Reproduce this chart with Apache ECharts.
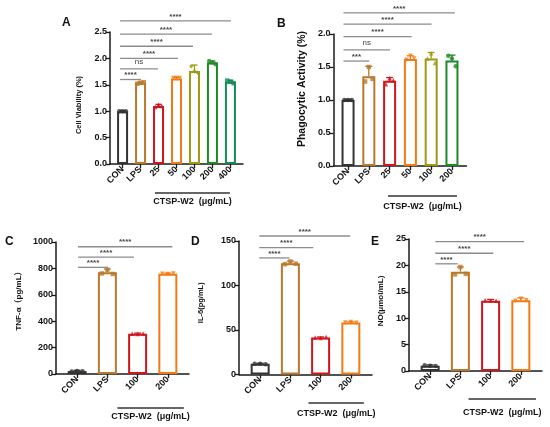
<!DOCTYPE html>
<html>
<head>
<meta charset="utf-8">
<script src="https://cdn.jsdelivr.net/npm/echarts@6/dist/echarts.min.js"></script>
<style>
  html, body { margin: 0; padding: 0; background: #fff; }
  #chart { width: 550px; height: 427px; }
</style>
</head>
<body>
<div id="chart"></div>
<script>
// A - cell viability
var catsA = ['CON', 'LPS', '25', '50', '100', '200', '400'];
var meanA = [1.0, 1.54, 1.10, 1.62, 1.76, 1.92, 1.56];
var errA = [1.01, 1.555, 1.13, 1.64, 1.875, 1.95, 1.585];
var repsA = [[1.0, 1.0, 1.0], [1.52, 1.54, 1.55], [1.08, 1.12, 1.10], [1.63, 1.63, 1.63],
  [1.85, 1.75, 1.73], [1.95, 1.92, 1.89], [1.58, 1.56, 1.53]];
var sigYA = [1.6, 1.8, 2.0, 2.23, 2.46, 2.71];
var sigEndA = [1.03, 1.97, 3.08, 3.92, 4.97, 6.03];
var sigLabA = ['****', 'ns', '****', '****', '****', '****'];

// B - phagocytic activity
var catsB = ['CON', 'LPS', '25', '50', '100', '200'];
var meanB = [1.0, 1.36, 1.29, 1.62, 1.63, 1.60];
var errB = [1.01, 1.51, 1.34, 1.67, 1.72, 1.68];
var repsB = [[1.0, 1.0, 1.0], [1.28, 1.50, 1.32], [1.24, 1.33, 1.30], [1.61, 1.67, 1.63],
  [1.63, 1.71, 1.56], [1.67, 1.63, 1.51]];
var sigYB = [1.59, 1.76, 1.96, 2.15, 2.32];
var sigEndB = [1.02, 2.02, 3.06, 4.02, 5.14];
var sigLabB = ['***', 'ns', '****', '****', '****'];

// C - TNF-a
var catsC = ['CON', 'LPS', '100', '200'];
var meanC = [22, 770, 305, 760];
var errC = [28, 795, 310, 764];
var repsC = [[18, 22, 20], [762, 790, 758], [305, 303, 307], [760, 758, 762]];
var sigYC = [808, 886, 964];
var sigEndC = [1.02, 1.88, 3.15];
var sigLabC = ['****', '****', '****'];

// D - IL-6
var catsD = ['CON', 'LPS', '100', '200'];
var meanD = [12, 125, 41.5, 58.5];
var errD = [12.6, 127.5, 42.2, 59.2];
var repsD = [[12, 12.2, 11.6], [124, 127, 124.5], [41.5, 41, 42], [58.5, 58.9, 58.2]];
var sigYD = [131, 142.5, 155.6];
var sigEndD = [0.97, 1.76, 2.98];
var sigLabD = ['****', '****', '****'];

// E - NO
var catsE = ['CON', 'LPS', '100', '200'];
var meanE = [1.0, 18.8, 13.3, 13.4];
var errE = [1.15, 19.7, 13.55, 13.85];
var repsE = [[1.1, 1.0, 0.95], [18.3, 19.7, 18.4], [13.4, 13.3, 13.3], [13.3, 13.7, 13.4]];
var sigYE = [20.3, 22.3, 24.5];
var sigEndE = [0.91, 2.09, 3.11];
var sigLabE = ['****', '****', '****'];

var cCON = '#333333', cLPS = '#b8792a', cRed = '#d0161c', cOrg = '#f27a12',
  cOlive = '#9c9a12', cGreen = '#1f8a25', cTeal = '#158859';
var FONT = 'Liberation Sans, Arial, Noto Sans CJK SC, sans-serif';
var bracketText = 'CTSP-W2  (μg/mL)';
var jitter = [-0.18, 0, 0.18];
var triDown = 'path://M0,0L10,0L5,9Z';

// nameShift: px the axis title sits above (+) or below (-) the axis middle
var panels = [
  { cats: catsA, mean: meanA, err: errA, reps: repsA, sigY: sigYA, sigEnd: sigEndA, sigLab: sigLabA,
    sigStart: -0.14, bracket: [1.8, 5.97], yMax: 2.5, yStep: 0.5, dec: 1, name: 'Cell Viability (%)',
    colors: [cCON, cLPS, cRed, cOrg, cOlive, cGreen, cTeal],
    shapes: ['circle', 'rect', 'triangle', triDown, 'diamond', 'circle', 'rect'],
    box: { left: 110, top: 32, width: 133, height: 132 }, nameGap: 27, nameSize: 7.5, nameShift: -7,
    barW: 11, capW: 6, brLine: 29, brText: 38, letter: 'A', lx: 62, ly: 17 },
  { cats: catsB, mean: meanB, err: errB, reps: repsB, sigY: sigYB, sigEnd: sigEndB, sigLab: sigLabB,
    sigStart: -0.22, bracket: [1.92, 5.24], yMax: 2.0, yStep: 0.5, dec: 1, name: 'Phagocytic Activity (%)',
    colors: [cCON, cLPS, cRed, cOrg, cOlive, cGreen],
    shapes: ['circle', 'rect', 'triangle', triDown, 'triangle', 'circle'],
    box: { left: 333.5, top: 34, width: 133, height: 132 }, nameGap: 26, nameSize: 10.5, nameShift: 11,
    barW: 13, capW: 7, brLine: 30, brText: 41, letter: 'B', lx: 277, ly: 18 },
  { cats: catsC, mean: meanC, err: errC, reps: repsC, sigY: sigYC, sigEnd: sigEndC, sigLab: sigLabC,
    sigStart: 0.03, bracket: [1.33, 3.53], yMax: 1000, yStep: 200, dec: 0, name: 'TNF-α（pg/mL）',
    colors: [cCON, cLPS, cRed, cOrg],
    shapes: ['circle', 'rect', 'triangle', triDown],
    box: { left: 56, top: 242, width: 133, height: 132 }, nameGap: 33, nameSize: 8, nameShift: 9,
    barW: 19, capW: 7, brLine: 34, brText: 43, letter: 'C', lx: 5, ly: 236 },
  { cats: catsD, mean: meanD, err: errD, reps: repsD, sigY: sigYD, sigEnd: sigEndD, sigLab: sigLabD,
    sigStart: -0.03, bracket: [1.6, 3.43], yMax: 150, yStep: 50, dec: 0, name: 'IL-6(pg/mL)',
    colors: [cCON, cLPS, cRed, cOrg],
    shapes: ['circle', 'rect', 'triangle', triDown],
    box: { left: 239, top: 241, width: 133, height: 133.5 }, nameGap: 34, nameSize: 7.5, nameShift: 5,
    barW: 19, capW: 7, brLine: 28.5, brText: 39.5, letter: 'D', lx: 191, ly: 236 },
  { cats: catsE, mean: meanE, err: errE, reps: repsE, sigY: sigYE, sigEnd: sigEndE, sigLab: sigLabE,
    sigStart: 0.17, bracket: [1.27, 3.5], yMax: 25, yStep: 5, dec: 0, name: 'NO(μmol/mL)',
    colors: [cCON, cLPS, cRed, cOrg],
    shapes: ['circle', 'rect', 'triangle', triDown],
    box: { left: 409, top: 239, width: 133, height: 132 }, nameGap: 24, nameSize: 8, nameShift: 4,
    barW: 19, capW: 7, brLine: 28, brText: 42, letter: 'E', lx: 371, ly: 236 }
];

var grids = [], xAxes = [], yAxes = [], series = [], titles = [];

panels.forEach(function (p, k) {
  var n = p.cats.length;
  var idx = p.cats.map(function (c, i) { return i; });
  var namePad = p.nameShift >= 0 ? [0, 0, 0, 2 * p.nameShift] : [0, -2 * p.nameShift, 0, 0];

  grids.push({ left: p.box.left, top: p.box.top, width: p.box.width, height: p.box.height,
    containLabel: false, outerBoundsMode: 'none' });

  titles.push({ text: p.letter, left: p.lx, top: p.ly, padding: 0,
    textStyle: { fontSize: 12, fontWeight: 'bold', color: '#111', fontFamily: FONT } });

  xAxes.push({
    type: 'value', gridIndex: k, min: -0.7, max: n - 0.3,
    splitLine: { show: false },
    axisLine: { onZero: false, lineStyle: { color: '#1a1a1a', width: 1.5 } },
    axisTick: { show: true, length: 4, customValues: idx, lineStyle: { color: '#1a1a1a', width: 1.3 } },
    axisLabel: {
      customValues: idx, rotate: 45, margin: 4, fontSize: 9, fontWeight: 'bold', color: '#111', fontFamily: FONT,
      formatter: function (v) { return p.cats[Math.round(v)]; }
    }
  });

  yAxes.push({
    type: 'value', gridIndex: k, min: 0, max: p.yMax, interval: p.yStep,
    name: p.name, nameLocation: 'middle', nameGap: p.nameGap, nameRotate: 90,
    nameTextStyle: { fontSize: p.nameSize, fontWeight: 'bold', color: '#111', fontFamily: FONT, padding: namePad },
    splitLine: { show: false },
    axisLine: { show: true, onZero: false, lineStyle: { color: '#1a1a1a', width: 1.5 } },
    axisTick: { show: true, length: 4, lineStyle: { color: '#1a1a1a', width: 1.3 } },
    axisLabel: {
      margin: 3, fontSize: 9, fontWeight: 'bold', color: '#111', fontFamily: FONT,
      formatter: function (v) { return v.toFixed(p.dec); }
    }
  });

  // bars
  series.push({
    type: 'bar', xAxisIndex: k, yAxisIndex: k, barWidth: p.barW, z: 2,
    data: p.mean.map(function (m, i) {
      return { value: [i, m], itemStyle: { color: '#fff', borderColor: p.colors[i], borderWidth: 2 } };
    })
  });

  // error bars (upper)
  series.push({
    type: 'custom', xAxisIndex: k, yAxisIndex: k, z: 3,
    encode: { x: 0, y: [1, 2] },
    data: p.mean.map(function (m, i) { return [i, m, p.err[i]]; }),
    renderItem: function (params, api) {
      var a = api.coord([api.value(0), api.value(1)]);
      var b = api.coord([api.value(0), api.value(2)]);
      var col = p.colors[params.dataIndex];
      return { type: 'group', children: [
        { type: 'line', shape: { x1: a[0], y1: a[1], x2: b[0], y2: b[1] }, style: { stroke: col, lineWidth: 1.3 } },
        { type: 'line', shape: { x1: b[0] - p.capW / 2, y1: b[1], x2: b[0] + p.capW / 2, y2: b[1] }, style: { stroke: col, lineWidth: 1.3 } }
      ] };
    }
  });

  // replicate points
  var pts = [];
  p.reps.forEach(function (r, i) {
    r.forEach(function (v, j) {
      pts.push({ value: [i + jitter[j], v], symbol: p.shapes[i], itemStyle: { color: p.colors[i] } });
    });
  });
  series.push({ type: 'scatter', xAxisIndex: k, yAxisIndex: k, z: 4, symbolSize: 4.5, data: pts });

  // significance lines
  series.push({
    type: 'custom', xAxisIndex: k, yAxisIndex: k, z: 5, clip: false,
    encode: { x: [0, 1], y: 2 },
    data: p.sigY.map(function (y, i) { return [p.sigStart, p.sigEnd[i], y]; }),
    renderItem: function (params, api) {
      var s = api.coord([api.value(0), api.value(2)]);
      var e = api.coord([api.value(1), api.value(2)]);
      var lab = p.sigLab[params.dataIndex];
      var star = lab.indexOf('*') >= 0;
      return { type: 'group', children: [
        { type: 'line', shape: { x1: s[0], y1: s[1], x2: e[0], y2: e[1] }, style: { stroke: '#8c8c8c', lineWidth: 1.3 } },
        { type: 'text', x: (s[0] + e[0]) / 2, y: s[1] - (star ? 0.5 : 3.5),
          style: { text: lab, fill: '#444', font: (star ? 'bold ' : '') + '8px ' + FONT,
            textAlign: 'center', verticalAlign: 'bottom', textVerticalAlign: 'bottom' } }
      ] };
    }
  });

  // treatment bracket below the axis
  series.push({
    type: 'custom', xAxisIndex: k, yAxisIndex: k, z: 5, clip: false,
    encode: { x: [0, 1] },
    data: [[p.bracket[0], p.bracket[1]]],
    renderItem: function (params, api) {
      var s = api.coord([api.value(0), 0]);
      var e = api.coord([api.value(1), 0]);
      return { type: 'group', children: [
        { type: 'line', shape: { x1: s[0], y1: s[1] + p.brLine, x2: e[0], y2: s[1] + p.brLine },
          style: { stroke: '#333', lineWidth: 1.4 } },
        { type: 'text', x: (s[0] + e[0]) / 2, y: s[1] + p.brText,
          style: { text: bracketText, fill: '#111', font: 'bold 9px ' + FONT,
            textAlign: 'center', verticalAlign: 'middle', textVerticalAlign: 'middle' } }
      ] };
    }
  });
});

var chart = echarts.init(document.getElementById('chart'));
chart.setOption({
  animation: false,
  backgroundColor: '#fff',
  title: titles,
  grid: grids,
  xAxis: xAxes,
  yAxis: yAxes,
  series: series
});
</script>
</body>
</html>
